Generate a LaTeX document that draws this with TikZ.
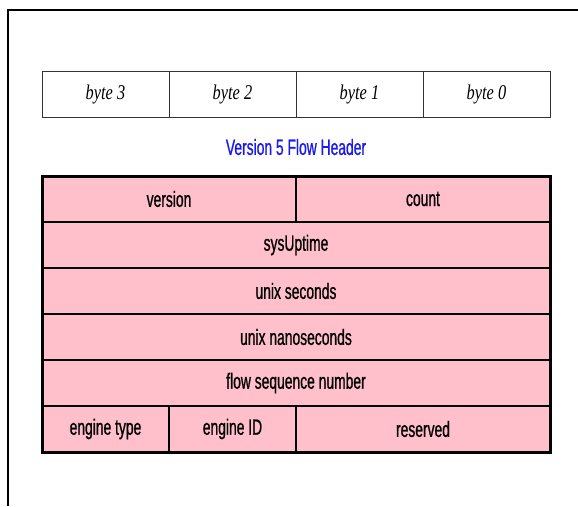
\documentclass[tikz,border=0pt]{standalone}
\usepackage{fontspec}
\usepackage{xcolor}
\usetikzlibrary{positioning}
\newfontfamily\cellfont[FakeStretch=0.63, FakeBold=0.8]{Liberation Sans}
\newfontfamily\bytefont[FakeStretch=0.78]{Liberation Serif}
\definecolor{fieldpink}{HTML}{FFC0CB}
\definecolor{titleblue}{HTML}{1A1AF0}

\begin{document}
\begin{tikzpicture}[x=1pt, y=1pt, node distance = 0pt]
        \tikzset{bytecell/.style={draw=black!80, line width=0.8pt, minimum width=127pt, minimum height=46pt, inner sep=0pt, outer sep=0pt, font=\bytefont\itshape\fontsize{21}{21}\selectfont}}
        \tikzset{field/.style={draw=black, fill=fieldpink, line width=2pt, minimum height=46pt, inner sep=0pt, outer sep=0pt, font=\cellfont\fontsize{22}{22}\selectfont}}
        \useasboundingbox (0,0) rectangle (578,-506);

        % frame
        \coordinate (framecorner) at (8,-10);
        \coordinate (framebottom) at (8,-506);
        \coordinate (frameright) at (578,-10);
        \draw[line width=2pt] (framebottom) -- (framecorner) -- (frameright);

        \node[bytecell, anchor=north west] (b3) at (42,-71) {byte 3};
        \node[bytecell] (b2) [right = of b3] {byte 2};
        \node[bytecell] (b1) [right = of b2] {byte 1};
        \node[bytecell] (b0) [right = of b1] {byte 0};

        \node[text=titleblue, font=\cellfont\fontsize{22}{22}\selectfont] (title) at (296,-147) {Version 5 Flow Header};

        \node[field, minimum width=254pt, anchor=north west] (version) at (42,-176) {version};
        \node[field, minimum width=254pt] (count) [right = of version] {count};
        \node[field, minimum width=508pt, anchor=north west] (uptime) at (version.south west) {sysUptime};
        \node[field, minimum width=508pt, anchor=north west] (unixsec) at (uptime.south west) {unix seconds};
        \node[field, minimum width=508pt, anchor=north west] (unixnsec) at (unixsec.south west) {unix nanoseconds};
        \node[field, minimum width=508pt, anchor=north west] (flowseq) at (unixnsec.south west) {flow sequence number};
        \node[field, minimum width=127pt, anchor=north west] (engtype) at (flowseq.south west) {engine type};
        \node[field, minimum width=127pt] (engid) [right = of engtype] {engine ID};
        \node[field, minimum width=254pt] (reserved) [right = of engid] {reserved};

        \draw[line width=3pt] (version.north west) rectangle (reserved.south east);
\end{tikzpicture}
\end{document}
